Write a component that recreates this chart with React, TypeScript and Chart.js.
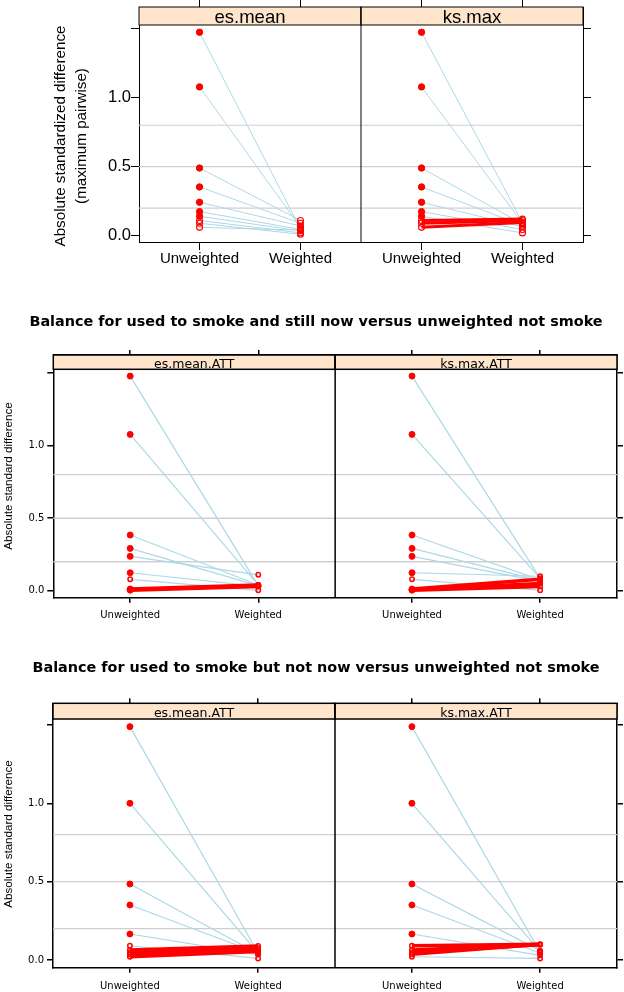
import React, { useEffect, useRef } from "react";
import { Chart, registerables } from "chart.js";

Chart.register(...registerables);

// ---------------- shared data ----------------
const categories = ["Unweighted", "Weighted"];
const yTickValues = [0, 0.5, 1.0, 1.5];
const yTickLabels = ["0.0", "0.5", "1.0", ""];
const referenceLines = [0.2, 0.5, 0.8];

// ---------------- figure 1 ----------------
const fig1Panels = ["es.mean", "ks.max"];
const fig1YLabel = ["Absolute standardized difference", "(maximum pairwise)"];
const fig1Unweighted = [1.474, 1.078, 0.49, 0.353, 0.242, 0.174, 0.14, 0.11, 0.09, 0.06];
const fig1Significant = [true, true, true, true, true, true, true, false, false, false];
const fig1EsMeanWeighted = [0.05, 0.06, 0.11, 0.09, 0.07, 0.045, 0.035, 0.02, 0.01, 0.04];
const fig1KsMaxWeighted = [0.095, 0.09, 0.085, 0.075, 0.065, 0.045, 0.02, 0.12, 0.11, 0.095];

// ---------------- figure 2 ----------------
const fig2Title = "Balance for used to smoke and still now versus unweighted not smoke";
const fig2Panels = ["es.mean.ATT", "ks.max.ATT"];
const fig2YLabel = ["Absolute standard difference"];
const fig2Unweighted = [1.48, 1.078, 0.384, 0.292, 0.237, 0.124, 0.079, 0.012, 0.008, 0.004];
const fig2Significant = [true, true, true, true, true, true, false, true, true, true];
const fig2EsMeanWeighted = [0.035, 0.04, 0.04, 0.035, 0.11, 0.03, 0.003, 0.04, 0.035, 0.03];
const fig2KsMaxWeighted = [0.085, 0.085, 0.075, 0.07, 0.065, 0.1, 0.003, 0.08, 0.05, 0.03];

// ---------------- figure 3 ----------------
const fig3Title = "Balance for used to smoke but not now versus unweighted not smoke";
const fig3Panels = ["es.mean.ATT", "ks.max.ATT"];
const fig3YLabel = ["Absolute standard difference"];
const fig3Unweighted = [1.489, 1.0, 0.485, 0.351, 0.166, 0.091, 0.064, 0.049, 0.036, 0.021];
const fig3Significant = [true, true, true, true, true, false, false, false, false, false];
const fig3EsMeanWeighted = [0.045, 0.045, 0.04, 0.045, 0.035, 0.01, 0.089, 0.075, 0.06, 0.055];
const fig3KsMaxWeighted = [0.05, 0.055, 0.06, 0.045, 0.03, 0.1, 0.1, 0.098, 0.1, 0.01];

// ---------------- styles ----------------
const PANEL_SPAN = 2.2;
const PANEL_LO = 0.4;
const RED = "#FF0000";
const BLUE = "#ADD8E6";
const REF_GRAY = "#CFCFCF";
const STRIP_FILL = "#FFE5CC";
const CANVAS_W = 624;
const SANS = "'Liberation Sans', Arial, Helvetica, sans-serif";
const DEJAVU = "'DejaVu Sans', Verdana, sans-serif";

type Style = {
  top: number;
  height: number;
  padLeft: number;
  area: { left: number; right: number; top: number; bottom: number };
  yMin: number;
  yMax: number;
  stripHeight: number;
  stripFont: string;
  stripLift: number;
  yTickFont: { family: string; size: number };
  xTickFont: { family: string; size: number };
  tl: { left: number; right: number; top: number; bottom: number };
  yTickPad: number;
  xTickPad: number;
  yLabelFont: string;
  yLabelBaselines: number[];
  yLabelCenter: number;
  titleFont?: { family: string; size: number; weight: string };
  titleCenter?: number;
  rFilled: number;
  rOpen: number;
  openBorder: number;
  blueWidth: number;
  redWidth: number;
  frameWidth: number;
  refWidth: number;
};

type Fig = {
  panels: string[];
  title?: string;
  yLabel: string[];
  unweighted: number[];
  significant: boolean[];
  weighted: number[][];
  s: Style;
};

const style1: Style = {
  top: 0,
  height: 300,
  padLeft: 0,
  area: { left: 139, right: 583, top: 7, bottom: 242 },
  yMin: -0.046,
  yMax: 1.657,
  stripHeight: 18,
  stripFont: `18.5px ${SANS}`,
  stripLift: 1.7,
  yTickFont: { family: SANS, size: 16.5 },
  xTickFont: { family: SANS, size: 15 },
  tl: { left: 8, right: 8, top: 7, bottom: 8 },
  yTickPad: 0,
  xTickPad: 0,
  yLabelFont: `15.2px ${SANS}`,
  yLabelBaselines: [65, 86],
  yLabelCenter: 136,
  rFilled: 3.2,
  rOpen: 3,
  openBorder: 1.1,
  blueWidth: 1,
  redWidth: 3,
  frameWidth: 1,
  refWidth: 1.2,
};

const style2: Style = {
  top: 300,
  height: 340,
  padLeft: 8,
  area: { left: 53.3, right: 617, top: 55, bottom: 297.7 },
  yMin: -0.048,
  yMax: 1.6255,
  stripHeight: 14.3,
  stripFont: `12.5px ${DEJAVU}`,
  stripLift: 1.6,
  yTickFont: { family: DEJAVU, size: 10 },
  xTickFont: { family: DEJAVU, size: 10 },
  tl: { left: 6, right: 6, top: 5, bottom: 5 },
  yTickPad: 3,
  xTickPad: 7,
  yLabelFont: `11.6px ${SANS}`,
  yLabelBaselines: [11.7],
  yLabelCenter: 176,
  titleFont: { family: DEJAVU, size: 14.4, weight: "bold" },
  titleCenter: 22.7,
  rFilled: 3,
  rOpen: 2.2,
  openBorder: 1.5,
  blueWidth: 1.2,
  redWidth: 3.5,
  frameWidth: 1.5,
  refWidth: 1.3,
};

const style3: Style = {
  ...style2,
  top: 640,
  height: 352,
  area: { left: 53, right: 617, top: 63.3, bottom: 327.7 },
  yMin: -0.049,
  yMax: 1.638,
  stripHeight: 15.7,
  stripLift: 1.7,
  xTickPad: 8,
  yLabelCenter: 194,
  titleCenter: 28.3,
};

const figures: Fig[] = [
  {
    panels: fig1Panels,
    yLabel: fig1YLabel,
    unweighted: fig1Unweighted,
    significant: fig1Significant,
    weighted: [fig1EsMeanWeighted, fig1KsMaxWeighted],
    s: style1,
  },
  {
    panels: fig2Panels,
    title: fig2Title,
    yLabel: fig2YLabel,
    unweighted: fig2Unweighted,
    significant: fig2Significant,
    weighted: [fig2EsMeanWeighted, fig2KsMaxWeighted],
    s: style2,
  },
  {
    panels: fig3Panels,
    title: fig3Title,
    yLabel: fig3YLabel,
    unweighted: fig3Unweighted,
    significant: fig3Significant,
    weighted: [fig3EsMeanWeighted, fig3KsMaxWeighted],
    s: style3,
  },
];

function makeLatticePlugin(fig: Fig) {
  const s = fig.s;
  return {
    id: "lattice",
    beforeDatasetsDraw(chart: any) {
      const { ctx, chartArea } = chart;
      const y = chart.scales.y;
      ctx.save();
      ctx.strokeStyle = REF_GRAY;
      ctx.lineWidth = s.refWidth;
      referenceLines.forEach((v) => {
        const py = y.getPixelForValue(v);
        ctx.beginPath();
        ctx.moveTo(chartArea.left, py);
        ctx.lineTo(chartArea.right, py);
        ctx.stroke();
      });
      ctx.restore();
    },
    afterDatasetsDraw(chart: any) {
      const { ctx, chartArea: ca } = chart;
      const x = chart.scales.x;
      ctx.save();
      const sTop = ca.top;
      const sBot = ca.top + s.stripHeight;
      fig.panels.forEach((name, p) => {
        const l = x.getPixelForValue(PANEL_LO + p * PANEL_SPAN);
        const r = x.getPixelForValue(PANEL_LO + (p + 1) * PANEL_SPAN);
        ctx.fillStyle = STRIP_FILL;
        ctx.fillRect(l, sTop, r - l, sBot - sTop);
        ctx.strokeStyle = "#000";
        ctx.lineWidth = s.frameWidth;
        ctx.strokeRect(l, sTop, r - l, sBot - sTop);
        ctx.fillStyle = "#000";
        ctx.font = s.stripFont;
        ctx.textAlign = "center";
        ctx.textBaseline = "alphabetic";
        ctx.fillText(name, (l + r) / 2, sBot - s.stripLift);
      });
      for (let p = 1; p < fig.panels.length; p++) {
        const dx = x.getPixelForValue(PANEL_LO + p * PANEL_SPAN);
        ctx.strokeStyle = "#000";
        ctx.lineWidth = s.frameWidth;
        ctx.beginPath();
        ctx.moveTo(dx, ca.top);
        ctx.lineTo(dx, ca.bottom);
        ctx.stroke();
      }
      ctx.fillStyle = "#000";
      ctx.font = s.yLabelFont;
      ctx.textAlign = "center";
      ctx.textBaseline = "alphabetic";
      fig.yLabel.forEach((line, i) => {
        ctx.save();
        ctx.translate(s.yLabelBaselines[i], s.yLabelCenter);
        ctx.rotate(-Math.PI / 2);
        ctx.fillText(line, 0, 0);
        ctx.restore();
      });
      ctx.restore();
    },
  };
}

function buildConfig(fig: Fig): any {
  const s = fig.s;
  const xTickValues = fig.panels.flatMap((_, p) => categories.map((_c, i) => 1 + i + p * PANEL_SPAN));
  const xMin = PANEL_LO;
  const xMax = PANEL_LO + fig.panels.length * PANEL_SPAN;
  const setX = (axis: any) => {
    axis.ticks = xTickValues.map((v) => ({ value: v }));
  };
  const setY = (axis: any) => {
    axis.ticks = yTickValues.map((v) => ({ value: v }));
  };
  const grid = (tl: number) => ({
    drawOnChartArea: false,
    drawTicks: true,
    tickLength: tl,
    color: "#000",
    lineWidth: s.frameWidth,
  });
  const border = { display: true, color: "#000", width: s.frameWidth };

  const datasets: any[] = [];
  fig.weighted.forEach((w, p) => {
    const xu = 1 + p * PANEL_SPAN;
    const xw = 2 + p * PANEL_SPAN;
    fig.unweighted.forEach((u, i) => {
      const up = w[i] > u;
      datasets.push({
        type: "line",
        data: [
          { x: xu, y: u },
          { x: xw, y: w[i] },
        ],
        borderColor: up ? RED : BLUE,
        borderWidth: up ? s.redWidth : s.blueWidth,
        pointRadius: 0,
        showLine: true,
        fill: false,
        tension: 0,
        order: up ? 1 : 2,
      });
    });
    const pts: any[] = [];
    const bg: string[] = [];
    const rad: number[] = [];
    const bw: number[] = [];
    fig.unweighted.forEach((u, i) => {
      pts.push({ x: xu, y: u });
      bg.push(fig.significant[i] ? RED : "rgba(0,0,0,0)");
      rad.push(fig.significant[i] ? s.rFilled : s.rOpen);
      bw.push(fig.significant[i] ? 1 : s.openBorder);
    });
    w.forEach((v) => {
      pts.push({ x: xw, y: v });
      bg.push("rgba(0,0,0,0)");
      rad.push(s.rOpen);
      bw.push(s.openBorder);
    });
    datasets.push({
      type: "line",
      data: pts,
      showLine: false,
      pointStyle: "circle",
      pointBackgroundColor: bg,
      pointBorderColor: RED,
      pointRadius: rad,
      pointBorderWidth: bw,
      order: 0,
    });
  });

  const titleLH = s.titleFont ? s.titleFont.size * 1.2 : 0;
  const titleCenter = s.titleCenter ?? 0;
  const titleOpts = fig.title
    ? {
        display: true,
        text: fig.title,
        color: "#000",
        font: { ...s.titleFont, lineHeight: 1.2 },
        padding: {
          top: titleCenter - titleLH / 2,
          bottom: s.area.top - s.tl.top - (titleCenter + titleLH / 2),
        },
      }
    : { display: false };

  return {
    type: "line",
    data: { datasets },
    plugins: [makeLatticePlugin(fig)],
    options: {
      animation: false,
      responsive: false,
      devicePixelRatio: 1,
      events: [],
      layout: {
        autoPadding: false,
        padding: { left: s.padLeft, right: 0, top: fig.title ? 0 : s.area.top - s.tl.top, bottom: 0 },
      },
      plugins: {
        legend: { display: false },
        tooltip: { enabled: false },
        title: titleOpts,
      },
      scales: {
        x: {
          type: "linear",
          position: "bottom",
          min: xMin,
          max: xMax,
          afterBuildTicks: setX,
          afterFit: (a: any) => {
            a.height = s.height - s.area.bottom;
          },
          ticks: {
            callback: (_v: any, i: number) => categories[i % categories.length],
            color: "#000",
            font: s.xTickFont,
            padding: s.xTickPad,
            autoSkip: false,
            maxRotation: 0,
            minRotation: 0,
          },
          grid: grid(s.tl.bottom),
          border,
        },
        xTop: {
          type: "linear",
          position: "top",
          min: xMin,
          max: xMax,
          afterBuildTicks: setX,
          afterFit: (a: any) => {
            a.height = s.tl.top;
          },
          ticks: { display: false },
          grid: grid(s.tl.top),
          border,
        },
        y: {
          type: "linear",
          position: "left",
          min: s.yMin,
          max: s.yMax,
          afterBuildTicks: setY,
          afterFit: (a: any) => {
            a.width = s.area.left - s.padLeft;
          },
          ticks: {
            callback: (_v: any, i: number) => (yTickLabels[i] === "" ? [] : yTickLabels[i]),
            color: "#000",
            font: s.yTickFont,
            padding: s.yTickPad,
          },
          grid: grid(s.tl.left),
          border,
        },
        yRight: {
          type: "linear",
          position: "right",
          min: s.yMin,
          max: s.yMax,
          afterBuildTicks: setY,
          afterFit: (a: any) => {
            a.width = CANVAS_W - s.area.right;
          },
          ticks: { display: false },
          grid: grid(s.tl.right),
          border,
        },
      },
    },
  };
}

function Figure({ fig }: { fig: Fig }) {
  const ref = useRef<HTMLCanvasElement>(null);
  useEffect(() => {
    if (!ref.current) return;
    const chart = new Chart(ref.current, buildConfig(fig));
    return () => chart.destroy();
  }, [fig]);
  return (
    <canvas
      ref={ref}
      width={CANVAS_W}
      height={fig.s.height}
      style={{ position: "absolute", left: 0, top: fig.s.top, width: CANVAS_W, height: fig.s.height }}
    />
  );
}

export default function App() {
  return (
    <div style={{ position: "absolute", left: 0, top: 0, width: CANVAS_W, height: 992, background: "#fff" }}>
      {figures.map((f, i) => (
        <Figure key={i} fig={f} />
      ))}
    </div>
  );
}
